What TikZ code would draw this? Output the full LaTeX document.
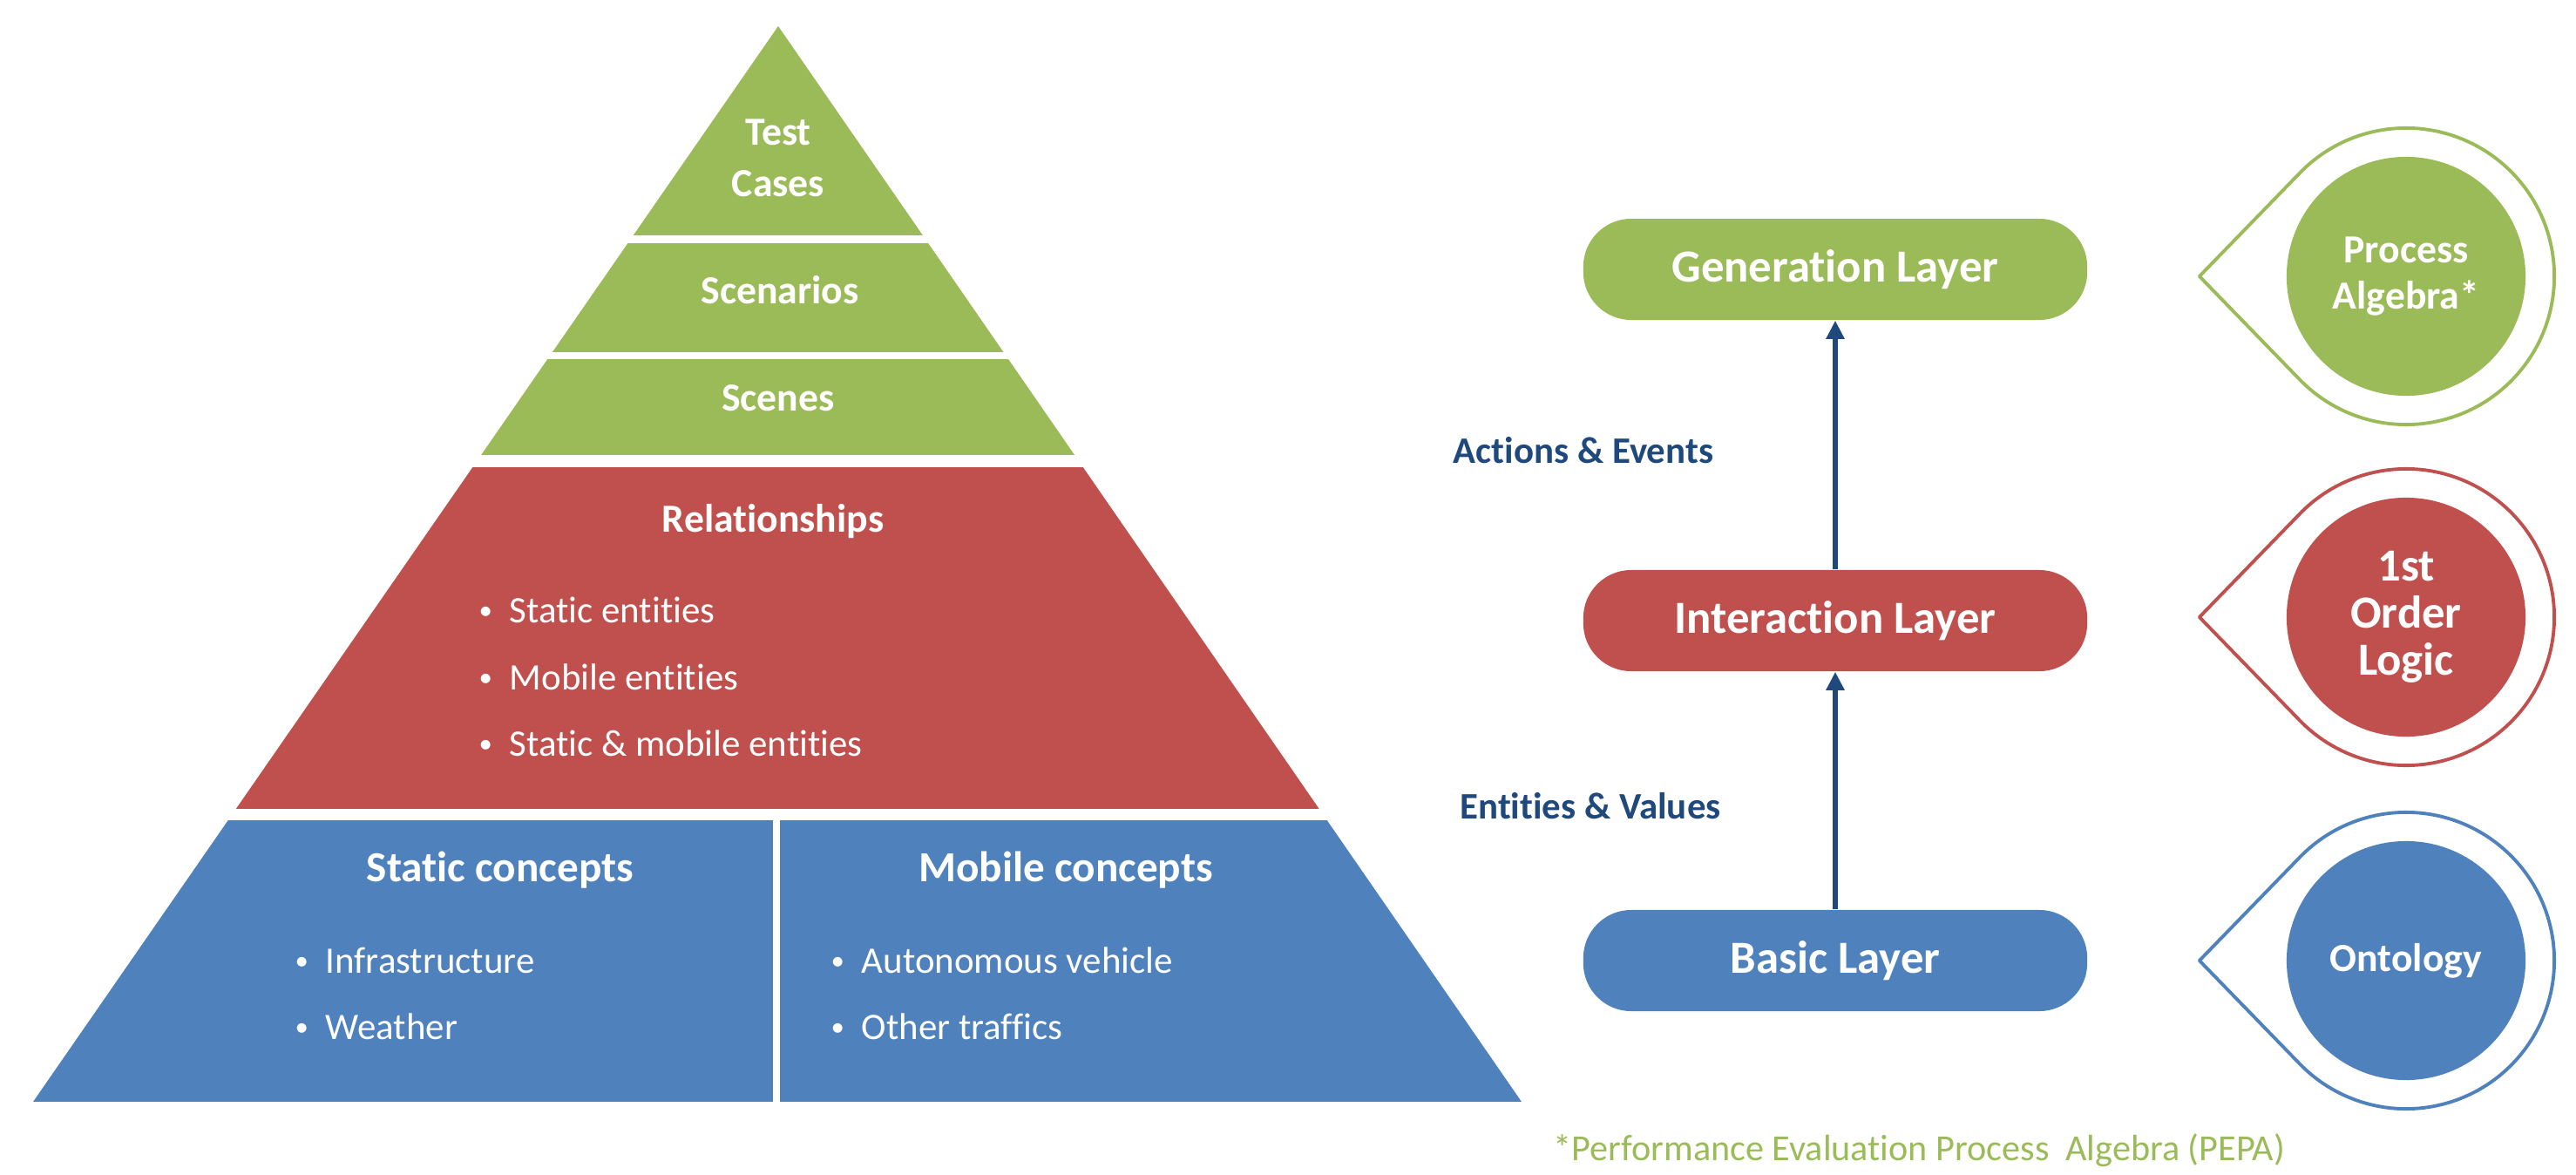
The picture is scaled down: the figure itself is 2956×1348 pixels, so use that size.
\documentclass[tikz,border=0pt]{standalone}
\usepackage{fontspec}
\setmainfont{Carlito}[Ligatures=NoCommon]
\usetikzlibrary{arrows.meta,calc}

\definecolor{pgreen}{HTML}{9BBB59}
\definecolor{pred}{HTML}{C0504D}
\definecolor{pblue}{HTML}{4F81BD}
\definecolor{pnavy}{HTML}{1F497D}

\newcommand{\itembul}{\makebox[0.35cm][l]{\raisebox{0.08em}{\scalebox{0.72}{\textbullet}}}}
% outline drop round a circle, tip to the left
\newcommand{\drawballoon}[2]{%
	\draw[#2,line width=1.1pt,line join=round] ($(#1)+(-2.37cm,0)$) -- ($(#1)+(136:1.7cm)$)
		arc[start angle=136,end angle=-136,radius=1.7cm] -- cycle;}

\begin{document}
\begin{tikzpicture}[%
	x=0.01cm,y=-0.01cm,>={Triangle[length=0.21cm,width=0.2cm]},
	layer/.style={rounded corners=0.55cm,minimum width=5.78cm,minimum height=1.16cm,
		text=white,font=\fontsize{15}{18}\selectfont\bfseries},
	band/.style={text=white,font=\fontsize{13}{16.8}\selectfont\bfseries,inner sep=0pt},
	head/.style={band,anchor=base,font=\fontsize{14}{17}\selectfont\bfseries},
	item/.style={text=white,font=\fontsize{12.2}{15}\selectfont,inner sep=0pt,anchor=base west},
	flow/.style={text=pnavy,font=\fontsize{12.2}{15}\selectfont\bfseries,inner sep=0pt,anchor=base},
	logic/.style={circle,minimum size=2.74cm,text=white,align=center,inner sep=0pt}]

	\useasboundingbox (0,0) rectangle (2956,1348);

	% pyramid
	\begin{scope}
		\clip (893,30) -- (1746,1264) -- (38,1264) -- cycle;
		\fill[pgreen] (0,0) rectangle (2000,270);
		\fill[pgreen] (0,279) rectangle (2000,404);
		\fill[pgreen] (0,412) rectangle (2000,522);
		\fill[pred] (0,536) rectangle (2000,928);
		\fill[pblue] (0,941) rectangle (887,1264);
		\fill[pblue] (895,941) rectangle (2000,1264);
	\end{scope}

	\node[band,align=center]	(TC)	at (893,181)	{Test\\Cases};
	\node[band,anchor=base]		(SCN)	at (895,348)	{Scenarios};
	\node[band,anchor=base]		(SCE)	at (893,471)	{Scenes};
	\node[band,anchor=base]		(REL)	at (887,610)	{Relationships};
	\node[item]	(REL1)	at (549,714)	{\itembul Static entities};
	\node[item]	(REL2)	at (549,791)	{\itembul Mobile entities};
	\node[item]	(REL3)	at (549,867)	{\itembul Static \& mobile entities};

	\node[head]	(STC)	at (574,1011)	{Static concepts};
	\node[head]	(MBC)	at (1223,1011)	{Mobile concepts};
	\node[item]	(STC1)	at (338,1116)	{\itembul Infrastructure};
	\node[item]	(STC2)	at (338,1192)	{\itembul Weather};
	\node[item]	(MBC1)	at (953,1116)	{\itembul Autonomous vehicle};
	\node[item]	(MBC2)	at (953,1192)	{\itembul Other traffics};

	% layers
	\node[layer,fill=pgreen]	(GEN)	at (2106,309)	{Generation Layer};
	\node[layer,fill=pred]		(INT)	at (2106,712)	{Interaction Layer};
	\node[layer,fill=pblue]		(BAS)	at (2106,1102)	{Basic Layer};

	\draw[->,pnavy,line width=1.6pt] (BAS) -- (INT);
	\draw[->,pnavy,line width=1.6pt] (INT) -- (GEN);

	\node[flow]	(AE)	at (1817,531)	{Actions \& Events};
	\node[flow]	(EV)	at (1825,939)	{Entities \& Values};

	% formalisms
	\coordinate (PAc) at (2761,317);
	\coordinate (FOc) at (2761,708);
	\coordinate (ONc) at (2761,1102);
	\drawballoon{PAc}{pgreen}
	\drawballoon{FOc}{pred}
	\drawballoon{ONc}{pblue}
	\node[logic,fill=pgreen,font=\fontsize{13}{15}\selectfont\bfseries]	(PA)	at (PAc)	{Process\\Algebra*};
	\node[logic,fill=pred,font=\fontsize{15}{15.4}\selectfont\bfseries]	(FO)	at (FOc)	{1st\\Order\\Logic};
	\node[logic,fill=pblue,font=\fontsize{13}{15}\selectfont\bfseries]	(ON)	at (ONc)	{Ontology};

	\node[text=pgreen,font=\fontsize{12}{14}\selectfont,inner sep=0pt,anchor=base west]
		(NOTE) at (1782,1331) {*Performance Evaluation Process\ \ Algebra (PEPA)};

\end{tikzpicture}
\end{document}
